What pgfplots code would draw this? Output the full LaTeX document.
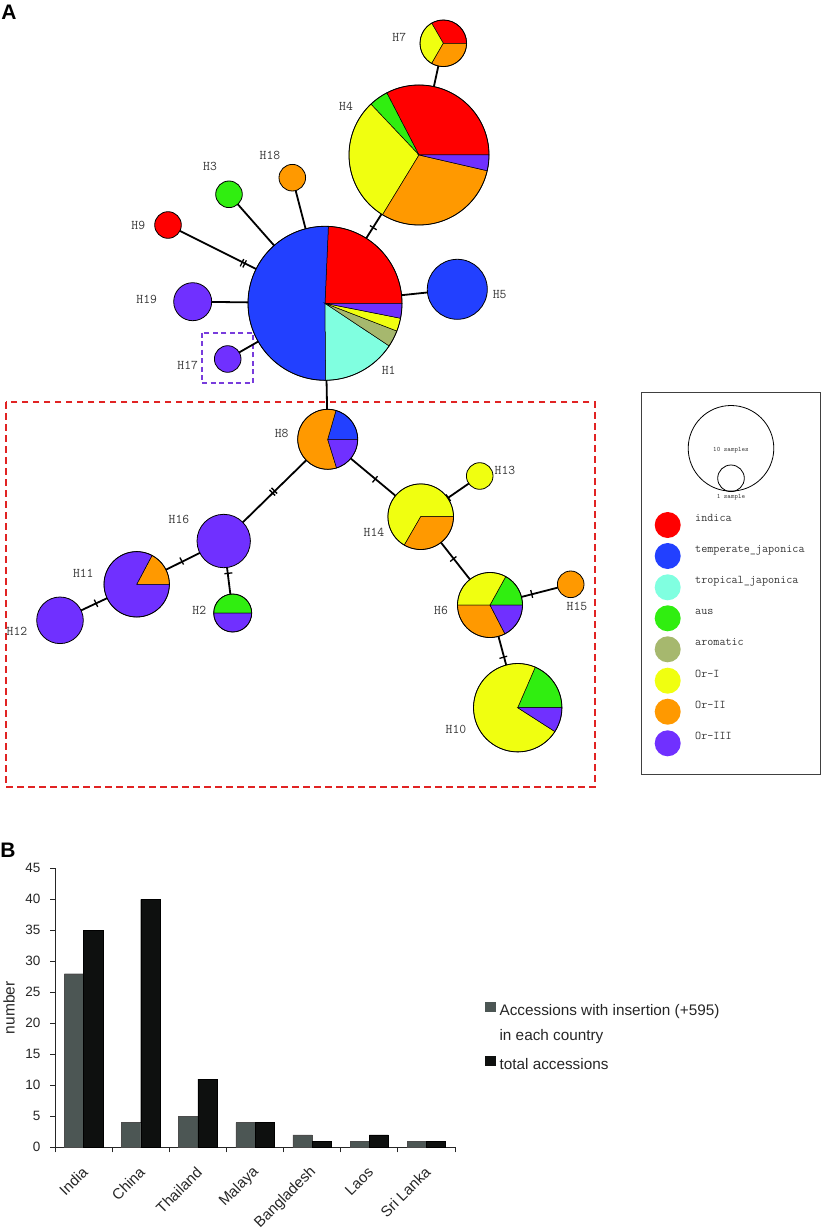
\documentclass[border=0pt]{standalone}
\usepackage{fontspec}
\setmainfont{Liberation Sans}
\usepackage{pgfplots}
\pgfplotsset{compat=1.18}
\usetikzlibrary{calc}
\definecolor{cInd}{RGB}{255,0,0}
\definecolor{cTej}{RGB}{34,64,255}
\definecolor{cTrj}{RGB}{128,255,224}
\definecolor{cAus}{RGB}{48,238,16}
\definecolor{cAro}{RGB}{166,184,110}
\definecolor{cOr1}{RGB}{240,255,16}
\definecolor{cOr2}{RGB}{255,153,0}
\definecolor{cOr3}{RGB}{112,48,255}
\definecolor{cGray}{RGB}{76,86,84}
\definecolor{cBlk}{RGB}{14,16,15}
\definecolor{cBox}{RGB}{225,35,35}
\definecolor{cPbox}{RGB}{120,60,220}
\definecolor{cTxt}{RGB}{55,55,55}
% slice: cx cy r a1 a2 colour
\newcommand{\pslice}[6]{\filldraw[fill=#6, draw=black, line width=0.5pt] (axis cs:#1,#2) -- ++(#4:#3pt) arc[start angle=#4, end angle=#5, radius=#3pt] -- cycle;}
\newcommand{\ring}[3]{\draw[line width=0.8pt] (axis cs:#1,#2) circle[radius=#3pt];}
\newcommand{\disc}[4]{\filldraw[fill=#4, draw=black, line width=0.8pt] (axis cs:#1,#2) circle[radius=#3pt];}
\newcommand{\edge}[4]{\draw[line width=1.8pt] (axis cs:#1,#2) -- (axis cs:#3,#4);}
\newcommand{\mtick}[4]{\draw[line width=1.3pt] ($(axis cs:#1,#2)!4pt!90:(axis cs:#3,#4)$) -- ($(axis cs:#1,#2)!4pt!-90:(axis cs:#3,#4)$);}
\newcommand{\hlab}[3]{\node[font=\ttfamily\fontsize{13.3}{13.3}\selectfont, text=cTxt, inner sep=0pt] at (axis cs:#1,#2) {#3};}
\newcommand{\legitem}[3]{\fill[#2] (axis cs:667.7,#1) circle[radius=13pt];
  \node[font=\ttfamily\fontsize{11.8}{12}\selectfont, text=cTxt, inner sep=0pt, anchor=base west] at (axis cs:695,#1-3.7) {#3};}
\begin{document}
\begin{tikzpicture}
\begin{axis}[name=A, at={(0,0)}, anchor=south west, hide axis, x=1pt, y=1pt, y dir=reverse,
  xmin=0, xmax=822, ymin=0, ymax=1229, clip=false]
% panel label
\node[font=\bfseries\fontsize{21}{21}\selectfont] at (axis cs:9,12) {A};
% boxes
\draw[cBox, line width=2pt, dash pattern=on 6.7pt off 4.3pt] (axis cs:6,402.3) rectangle (axis cs:595,787);
\draw[cPbox, line width=1.7pt, dash pattern=on 5pt off 3.5pt] (axis cs:201.7,332.7) rectangle (axis cs:252.7,383.3);
% edges
\edge{443.3}{43.3}{419}{155}
\edge{419}{155}{325}{303.3}
\edge{292.3}{177.7}{325}{303.3}
\edge{229}{194.3}{325}{303.3}
\edge{168}{225}{325}{303.3}
\edge{192.7}{301.7}{325}{303.3}
\edge{227.7}{359}{325}{303.3}
\edge{457.3}{289.3}{325}{303.3}
\edge{325}{303.3}{327.7}{439.3}
\edge{327.7}{439.3}{223.7}{541}
\edge{327.7}{439.3}{420.7}{516.7}
\edge{223.7}{541}{136.7}{584.3}
\edge{136.7}{584.3}{60}{620.3}
\edge{223.7}{541}{232.7}{613}
\edge{420.7}{516.7}{479.7}{476}
\edge{420.7}{516.7}{490}{605}
\edge{490}{605}{570.7}{584.3}
\edge{490}{605}{517.7}{707.7}
% mutation ticks
\mtick{242.0}{262.7}{325}{303.3}
\mtick{244.6}{263.9}{325}{303.3}
\mtick{373.3}{227.7}{325}{303.3}
\mtick{274.3}{490.7}{223.7}{541}
\mtick{272.3}{492.7}{223.7}{541}
\mtick{375}{479.3}{420.7}{516.7}
\mtick{181.7}{561}{136.7}{584.3}
\mtick{96}{603.3}{60}{620.3}
\mtick{228.3}{573.3}{232.7}{613}
\mtick{448.3}{497.7}{479.7}{476}
\mtick{453.3}{559}{490}{605}
\mtick{531.7}{594}{570.7}{584.3}
\mtick{503.3}{657.3}{517.7}{707.7}
% H1
\pslice{325}{303.3}{77}{0}{87.5}{cInd}
\pslice{325}{303.3}{77}{87.5}{270.5}{cTej}
\pslice{325}{303.3}{77}{270.5}{326.4}{cTrj}
\pslice{325}{303.3}{77}{326.4}{338.9}{cAro}
\pslice{325}{303.3}{77}{338.9}{348.8}{cOr1}
\pslice{325}{303.3}{77}{348.8}{360}{cOr3}
\ring{325}{303.3}{77}
% H4
\pslice{419}{155}{70}{0}{117.4}{cInd}
\pslice{419}{155}{70}{117.4}{133.4}{cAus}
\pslice{419}{155}{70}{133.4}{238.6}{cOr1}
\pslice{419}{155}{70}{238.6}{347}{cOr2}
\pslice{419}{155}{70}{347}{360}{cOr3}
\ring{419}{155}{70}
% H7
\pslice{443.3}{43.3}{23.3}{0}{120}{cInd}
\pslice{443.3}{43.3}{23.3}{120}{240}{cOr1}
\pslice{443.3}{43.3}{23.3}{240}{360}{cOr2}
\ring{443.3}{43.3}{23.3}
% single-colour haplotypes
\disc{292.3}{177.7}{13.3}{cOr2}
\disc{229}{194.3}{13.3}{cAus}
\disc{168}{225}{13.3}{cInd}
\disc{192.7}{301.7}{19}{cOr3}
\disc{227.7}{359}{13.3}{cOr3}
\disc{457.3}{289.3}{30}{cTej}
\disc{223.7}{541}{26.7}{cOr3}
\disc{60}{620.3}{23.3}{cOr3}
\disc{479.7}{476}{13.3}{cOr1}
\disc{570.7}{584.3}{13.3}{cOr2}
% H8
\pslice{327.7}{439.3}{30}{0}{74}{cTej}
\pslice{327.7}{439.3}{30}{74}{287.2}{cOr2}
\pslice{327.7}{439.3}{30}{287.2}{360}{cOr3}
\ring{327.7}{439.3}{30}
% H11
\pslice{136.7}{584.3}{32.7}{0}{62}{cOr2}
\pslice{136.7}{584.3}{32.7}{62}{360}{cOr3}
\ring{136.7}{584.3}{32.7}
% H2
\pslice{232.7}{613}{19}{0}{180}{cAus}
\pslice{232.7}{613}{19}{180}{360}{cOr3}
\ring{232.7}{613}{19}
% H14
\pslice{420.7}{516.7}{32.8}{0}{240}{cOr1}
\pslice{420.7}{516.7}{32.8}{240}{360}{cOr2}
\ring{420.7}{516.7}{32.8}
% H6
\pslice{490}{605}{32.5}{0}{61}{cAus}
\pslice{490}{605}{32.5}{61}{180}{cOr1}
\pslice{490}{605}{32.5}{180}{297.4}{cOr2}
\pslice{490}{605}{32.5}{297.4}{360}{cOr3}
\ring{490}{605}{32.5}
% H10
\pslice{517.7}{707.7}{44.2}{0}{66.6}{cAus}
\pslice{517.7}{707.7}{44.2}{66.6}{327.3}{cOr1}
\pslice{517.7}{707.7}{44.2}{327.3}{360}{cOr3}
\ring{517.7}{707.7}{44.2}
% labels
\hlab{399.3}{37.3}{H7}
\hlab{346}{106}{H4}
\hlab{270}{155.7}{H18}
\hlab{210}{166.7}{H3}
\hlab{138.3}{225}{H9}
\hlab{146.7}{299}{H19}
\hlab{187.7}{365.7}{H17}
\hlab{388.7}{370}{H1}
\hlab{499.7}{295}{H5}
\hlab{281.7}{433.3}{H8}
\hlab{179}{519}{H16}
\hlab{83.3}{573.3}{H11}
\hlab{17}{631.7}{H12}
\hlab{199.3}{610.7}{H2}
\hlab{374}{532.7}{H14}
\hlab{505}{470}{H13}
\hlab{441}{610.7}{H6}
\hlab{577}{606.7}{H15}
\hlab{456}{729.3}{H10}
% legend box
\draw[black!75, line width=0.8pt] (axis cs:641.7,392.7) rectangle (axis cs:820,774);
\ring{731}{448.3}{42.8}
\ring{731}{478.3}{13.3}
\node[font=\ttfamily\fontsize{6.7}{7}\selectfont, text=cTxt, inner sep=0pt] at (axis cs:731,450) {10 samples};
\node[font=\ttfamily\fontsize{6.7}{7}\selectfont, text=cTxt, inner sep=0pt] at (axis cs:731,496.7) {1 sample};
\legitem{525}{cInd}{indica}
\legitem{556}{cTej}{temperate\_japonica}
\legitem{587.3}{cTrj}{tropical\_japonica}
\legitem{618.3}{cAus}{aus}
\legitem{649.3}{cAro}{aromatic}
\legitem{680.7}{cOr1}{Or-I}
\legitem{711.7}{cOr2}{Or-II}
\legitem{743.3}{cOr3}{Or-III}
% panel B label
\node[font=\bfseries\fontsize{21}{21}\selectfont] at (axis cs:8,850) {B};
\end{axis}
\begin{axis}[at={(55pt,81.7pt)}, anchor=south west, scale only axis, width=400pt, height=279pt,
  font=\fontsize{15.3}{17}\selectfont,
  /pgf/number format/assume math mode=true,
  xmin=-0.5, xmax=6.5, ymin=0, ymax=45,
  axis lines*=left,
  axis line style={line width=0.8pt, black!85},
  ybar=0pt, bar width=19.2pt,
  xtick={0,...,6},
  xticklabels={India,China,Thailand,Malaya,Bangladesh,Laos,Sri Lanka},
  major x tick style={draw=none},
  minor xtick={-0.5,0.5,...,6.5},
  ytick={0,5,...,45},
  tick align=outside, major tick length=5pt, minor tick length=5pt,
  tick style={black!85, line width=0.8pt},
  yticklabel style={font=\fontsize{13.5}{15}\selectfont, inner sep=0pt, xshift=-9.3pt, text=black!85},
  xticklabel style={font=\fontsize{15}{17}\selectfont, xshift=1.5pt, yshift=-17.5pt, rotate=45, anchor=east, inner sep=0pt, text=black!85},
  ylabel={number},
  ylabel style={font=\fontsize{15.5}{17}\selectfont, at={(axis description cs:-0.115,0.5)}, anchor=center, text=black!85},
  legend style={at={(axis description cs:1.075,0.522)}, anchor=north west, draw=none, fill=none,
    inner sep=0pt, row sep=12pt, column sep=4pt,
    nodes={inner sep=0pt, text height=10.5pt, text depth=3pt, text=black!85}},
  legend cell align=left,
]
\addplot[fill=cGray, draw=black!70, line width=0.4pt,
  legend image code/.code={\fill[cGray] (0pt,0pt) rectangle (10pt,9.5pt);}]
  coordinates {(0,28) (1,4) (2,5) (3,4) (4,2) (5,1) (6,1)};
\addlegendentry{Accessions with insertion (+595)}
\addlegendimage{empty legend}
\addlegendentry{in each country}
\addplot[fill=cBlk, draw=black, line width=0.4pt,
  legend image code/.code={\fill[cBlk] (0pt,0pt) rectangle (10pt,9.5pt);}]
  coordinates {(0,35) (1,40) (2,11) (3,4) (4,1) (5,2) (6,1)};
\addlegendentry{total accessions}
\end{axis}
\pgfresetboundingbox
\path[use as bounding box] (0,0) rectangle (822pt,1229pt);
\end{tikzpicture}
\end{document}
